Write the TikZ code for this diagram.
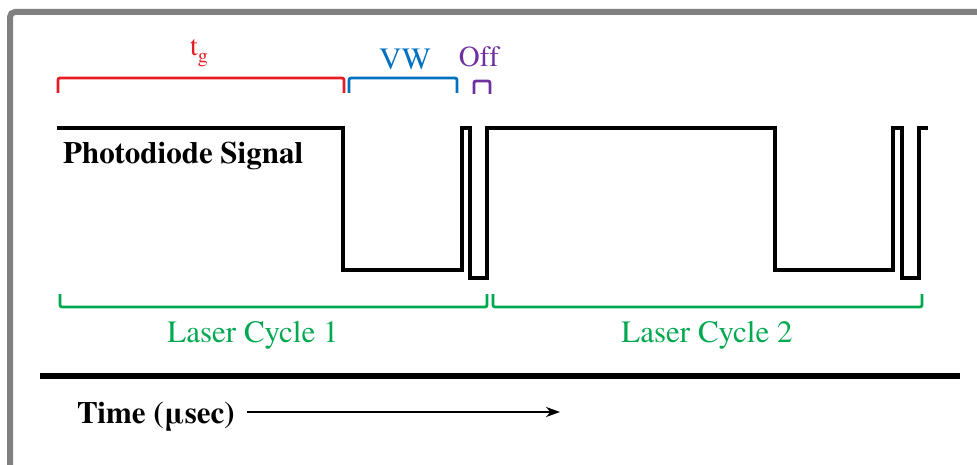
\documentclass[tikz,border=0pt]{standalone}
\usepackage{fontspec}
\setmainfont{TeX Gyre Termes}
\usetikzlibrary{arrows.meta}
\definecolor{tgred}{RGB}{232,28,36}
\definecolor{vwblue}{RGB}{0,112,192}
\definecolor{offpurple}{RGB}{112,48,160}
\definecolor{cyclegreen}{RGB}{0,168,80}
\definecolor{framegray}{RGB}{128,128,128}
\begin{document}
\begin{tikzpicture}[x=1pt,y=-1pt,
  sig/.style={line width=4.5pt, line join=miter},
  brk/.style={line width=2.8pt, rounded corners=2pt},
  lbl/.style={font=\fontsize{31}{31}\selectfont, anchor=base, inner sep=0pt},
  blbl/.style={font=\fontsize{31}{31}\selectfont\bfseries, anchor=base west, inner sep=0pt},
  arr/.style={line width=2.5pt, -{Stealth[length=14pt,width=10pt]}}]
\useasboundingbox (0,0) rectangle (977,465);
\clip (0,0) rectangle (977,465);
% frame
\draw[framegray, line width=6pt, rounded corners=5pt] (10,480) -- (10,12) -- (995,12);
% brackets top
\draw[brk, tgred] (58,93) -- (58,78) -- (344,78) -- (344,93);
\draw[brk, vwblue] (349,93) -- (349,78) -- (457,78) -- (457,93);
\draw[brk, offpurple] (474,94) -- (474,81) -- (490,81) -- (490,94);
\node[lbl, text=tgred, font=\fontsize{28}{28}\selectfont] (tg) at (199,56) {t\raisebox{-7pt}{\fontsize{20}{20}\selectfont g}};
\node[lbl, text=vwblue] (vw) at (405,70) {VW};
\node[lbl, text=offpurple, font=\fontsize{29}{29}\selectfont] (off) at (479,67) {Of\kern0ptf};
% signal
\draw[sig] (57,128) -- (343,128) -- (343,270) -- (462,270) -- (462,128) -- (470,128)
  -- (470,278) -- (487,278) -- (487,128) -- (775,128) -- (775,270) -- (893,270)
  -- (893,128) -- (902,128) -- (902,278) -- (919,278) -- (919,128) -- (928,128);
\node[blbl] (pd) at (63,164) {Photodiode Signal};
% cycle brackets
\draw[brk, cyclegreen] (60,294) -- (60,307) -- (487,307) -- (487,294);
\draw[brk, cyclegreen] (493,294) -- (493,307) -- (922,307) -- (922,294);
\node[lbl, text=cyclegreen] (lc1) at (253,342) {Laser Cycle 1};
\node[lbl, text=cyclegreen] (lc2) at (707,342) {Laser Cycle 2};
% time axis
\coordinate (axl) at (40,376);
\coordinate (axr) at (960,376);
\draw[line width=6pt] (axl) -- (axr);
\node[blbl] (time) at (77,423) {Time (μsec)};
\coordinate (tend) at (560,412);
\draw[arr, shorten <=12pt] (time.east |- tend) -- (tend);
\end{tikzpicture}
\end{document}
